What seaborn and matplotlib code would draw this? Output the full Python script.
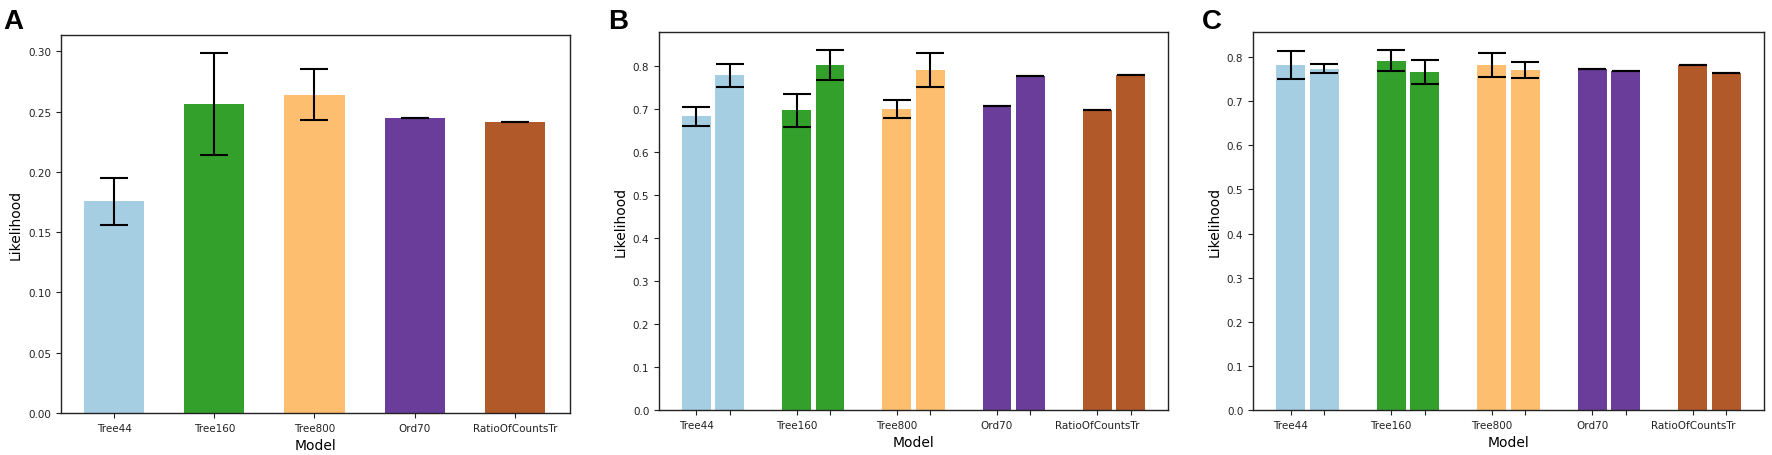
import numpy as np
import pandas as pd
import matplotlib
matplotlib.use("Agg")
import matplotlib.pyplot as plt
import seaborn as sns

# ---------------- data ----------------
models = ["Tree44", "Tree160", "Tree800", "Ord70", "RatioOfCountsTr"]
colors = ["#a6cee3", "#33a02c", "#fdbf6f", "#6a3d9a", "#b15928"]

# Panel A
a_mean = [0.1755, 0.2565, 0.2642, 0.2446, 0.2411]
a_err = [0.0195, 0.0422, 0.0210, 0.0, 0.0]

# Panel B (two bars per model)
b_mean1 = [0.683, 0.697, 0.700, 0.707, 0.697]
b_err1 = [0.022, 0.038, 0.021, 0.0, 0.0]
b_mean2 = [0.778, 0.802, 0.791, 0.776, 0.778]
b_err2 = [0.026, 0.035, 0.040, 0.0, 0.0]

# Panel C (two bars per model)
c_mean1 = [0.782, 0.792, 0.782, 0.772, 0.782]
c_err1 = [0.031, 0.024, 0.0275, 0.0, 0.0]
c_mean2 = [0.774, 0.766, 0.771, 0.768, 0.763]
c_err2 = [0.010, 0.027, 0.018, 0.0, 0.0]

plt.rcParams["font.family"] = ["DejaVu Sans"]

W, H = 1772, 456
fig = plt.figure(figsize=(W / 100, H / 100), dpi=100)

def px_axes(l, r, t, b):
    return fig.add_axes([l / W, (H - b) / H, (r - l) / W, (b - t) / H])

err_kw = dict(fmt="none", ecolor="black", capsize=10, elinewidth=1.5, capthick=1.5)

def style(ax):
    ax.set_xlabel("Model", fontsize=10)
    ax.set_ylabel("Likelihood", fontsize=10)
    ax.tick_params(axis="both", labelsize=7.5, colors="#222222", labelcolor="#222222")
    for s in ax.spines.values():
        s.set_linewidth(1.0)
        s.set_color("#222222")

# ---------------- Panel A ----------------
axA = px_axes(61, 570, 36, 414)
dfA = pd.DataFrame({"Model": models, "Likelihood": a_mean})
sns.barplot(data=dfA, x="Model", y="Likelihood", hue="Model", palette=colors,
            width=0.6, saturation=1, errorbar=None, legend=False, ax=axA)
axA.errorbar(np.arange(len(models)), a_mean, yerr=a_err, **err_kw)
axA.set_yticks([0.0, 0.05, 0.10, 0.15, 0.20, 0.25, 0.30])
axA.set_yticklabels(["0.00", "0.05", "0.10", "0.15", "0.20", "0.25", "0.30"])
axA.set_xlim(-0.53, 4.55)
style(axA)

# ---------------- Panels B & C ----------------
def paired(ax, m1, e1, m2, e2):
    pos1 = [3 * i for i in range(len(models))]
    pos2 = [3 * i + 1 for i in range(len(models))]
    df = pd.DataFrame({
        "pos": pos1 + pos2,
        "Likelihood": list(m1) + list(m2),
        "Model": models + models,
    })
    sns.barplot(data=df, x="pos", y="Likelihood", hue="Model", palette=colors,
                hue_order=models, native_scale=True, dodge=False, width=0.86,
                saturation=1, errorbar=None, legend=False, ax=ax)
    ax.errorbar(pos1, m1, yerr=e1, **err_kw)
    ax.errorbar(pos2, m2, yerr=e2, **err_kw)
    ticks = sorted(pos1 + pos2)
    ax.set_xticks(ticks)
    labels = []
    for t in ticks:
        labels.append(models[t // 3] if t % 3 == 0 else "")
    ax.set_xticklabels(labels)
    ax.set_xlim(-1.12, 14.12)
    ax.set_yticks(np.arange(0, 0.81, 0.1))
    ax.set_yticklabels([f"{v:.1f}" for v in np.arange(0, 0.81, 0.1)])
    style(ax)

axB = px_axes(659, 1168, 33, 411)
paired(axB, b_mean1, b_err1, b_mean2, b_err2)

axC = px_axes(1253, 1764, 33, 411)
paired(axC, c_mean1, c_err1, c_mean2, c_err2)

# panel letters
for lab, x in [("A", 3), ("B", 608), ("C", 1202)]:
    fig.text(x / W, (H - 29) / H, lab, fontsize=20, fontweight="bold",
             family=["Liberation Sans", "DejaVu Sans"], ha="left", va="baseline")

fig.savefig("out.png", dpi=100)
